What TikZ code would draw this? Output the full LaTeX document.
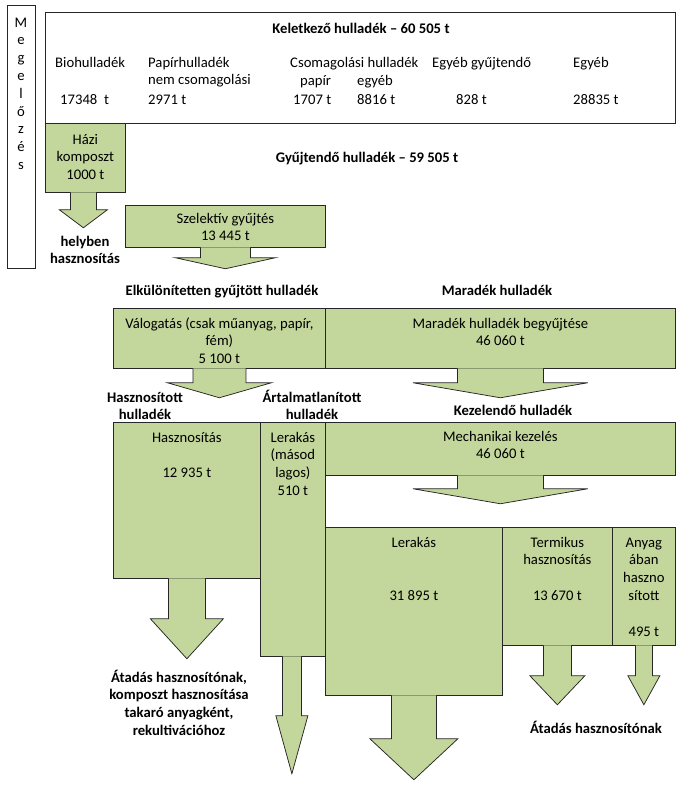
\documentclass[tikz,border=0pt]{standalone}
\usepackage{fontspec}
\setmainfont{Carlito}
\usepackage{tikz}
\usetikzlibrary{positioning}

\definecolor{boxgreen}{HTML}{C3D69B}
\definecolor{edgegray}{HTML}{262626}

\tikzset{
  box/.style={draw=edgegray, fill=boxgreen, line width=0.75pt, anchor=north west, inner sep=0pt},
  frame/.style={draw=edgegray, line width=0.75pt, anchor=north west, inner sep=0pt},
  txt/.style={inner sep=0pt, anchor=north, align=center},
  ltxt/.style={inner sep=0pt, anchor=north west, align=left},
  head/.style={txt, font=\bfseries},
  flow/.style={draw=edgegray, fill=boxgreen, line width=0.75pt, line join=miter}
}

% block arrow below a box: root, stem half width, stem length, head half width, head length
\newcommand{\blockarrow}[5]{%
  \filldraw[flow] (#1) ++(-#2,-0.5) -- ++(0,#3+0.5) -- ++(#2-#4,0) -- ++(#4,#5)
    -- ++(#4,-#5) -- ++(#2-#4,0) -- ++(0,-#3-0.5);
}

\begin{document}
\fontsize{14.67}{17.8}\selectfont
\begin{tikzpicture}[x=1pt, y=-1pt]
  \useasboundingbox (0,0) rectangle (695,792);

  % boxes
  \node[frame, minimum width=28pt, minimum height=263pt] (megelozes) at (7,5) {};
  \node[frame, minimum width=630pt, minimum height=111pt] (keletkezo) at (45,12) {};
  \node[box, minimum width=80pt, minimum height=69pt] (hazi) at (45,123) {};
  \node[box, minimum width=200pt, minimum height=42pt] (szelektiv) at (125,205) {};
  \node[box, minimum width=212pt, minimum height=60pt] (valogatas) at (113,308) {};
  \node[box, minimum width=350pt, minimum height=60pt] (maradek) at (325,308) {};
  \node[box, minimum width=147pt, minimum height=156pt] (hasznositas) at (113,422) {};
  \node[box, minimum width=65pt, minimum height=234pt] (lerakas2) at (260,422) {};
  \node[box, minimum width=350pt, minimum height=53pt] (mechanikai) at (325,422) {};
  \node[box, minimum width=177pt, minimum height=168pt] (lerakas) at (325,527) {};
  \node[box, minimum width=110pt, minimum height=118pt] (termikus) at (502,527) {};
  \node[box, minimum width=63pt, minimum height=118pt] (anyag) at (612,527) {};

  % arrows
  \blockarrow{[xshift=-2pt]hazi.south}{13}{17}{24}{18}
  \blockarrow{szelektiv.south}{25}{10}{50}{11}
  \blockarrow{valogatas.south}{26.5}{14}{52}{15}
  \blockarrow{maradek.south}{43}{14}{87.5}{15}
  \blockarrow{mechanikai.south}{43}{13}{87.5}{15}
  \blockarrow{hasznositas.south}{18.5}{40}{36.5}{40}
  \blockarrow{[xshift=-1pt]lerakas2.south}{9.5}{59}{16}{58}
  \blockarrow{lerakas.south}{22.5}{43}{44}{41}
  \blockarrow{termikus.south}{14}{30}{27.5}{29}
  \blockarrow{anyag.south}{8.5}{30}{16}{29}

  % top box
  \node[txt] (megelozestxt) at (21,14.5) {\strut M\\e\\g\\e\\l\\ő\\z\\é\\s};
  \node[head] (keletkezotxt) at (361,20.5) {\strut Keletkező hulladék – 60 505 t};
  \node[ltxt] (bio) at (55,54.5) {\strut Biohulladék};
  \node[ltxt] (papir) at (148,54.5) {\strut Papírhulladék\\nem csomagolási};
  \node[ltxt] (csomag) at (290,54.5) {\strut Csomagolási hulladék};
  \node[ltxt] (csomagpapir) at (300,72.5) {\strut papír};
  \node[ltxt] (csomagegyeb) at (357,72.5) {\strut egyéb};
  \node[ltxt] (egyebgyujt) at (432,54.5) {\strut Egyéb gyűjtendő};
  \node[ltxt] (egyeb) at (573,54.5) {\strut Egyéb};
  \node[ltxt] (biot) at (60,91.5) {\strut 17348\ \ t};
  \node[ltxt] (papirt) at (148,91.5) {\strut 2971 t};
  \node[ltxt] (csomagpapirt) at (293,91.5) {\strut 1707 t};
  \node[ltxt] (csomagegyebt) at (357,91.5) {\strut 8816 t};
  \node[ltxt] (egyebgyujtt) at (456,91.5) {\strut 828 t};
  \node[ltxt] (egyebt) at (573,91.5) {\strut 28835 t};

  % box texts
  \node[txt, below=8.5pt of hazi.north] (hazitxt) {\strut Házi\\komposzt\\1000 t};
  \node[txt, below=5.5pt of szelektiv.north] (szelektivtxt) {\strut Szelektív gyűjtés\\13 445 t};
  \node[txt, below=7.5pt of valogatas.north] (valogatastxt) {\strut Válogatás (csak műanyag, papír,\\fém)\\5 100 t};
  \node[txt, below=7.5pt of maradek.north] (maradektxt) {\strut Maradék hulladék begyűjtése\\46 060 t};
  \node[txt, below=7.5pt of hasznositas.north] (hasznositastxt) {\strut Hasznosítás\\[17.8pt]12 935 t};
  \node[txt, below=7.5pt of lerakas2.north] (lerakas2txt) {\strut Lerakás\\(másod\\lagos)\\510 t};
  \node[txt, below=6.5pt of mechanikai.north] (mechanikaitxt) {\strut Mechanikai kezelés\\46 060 t};
  \node[txt, below=7.5pt of lerakas.north] (lerakastxt) {\strut Lerakás\\[35.6pt]31 895 t};
  \node[txt, below=7.5pt of termikus.north] (termikustxt) {\strut Termikus\\hasznosítás\\[17.8pt]13 670 t};
  \node[txt, below=7.5pt of anyag.north] (anyagtxt) {\strut Anyag\\ában\\haszno\\sított\\[17.8pt]495 t};

  % headings
  \node[head] (gyujtendo) at (367,149.5) {\strut Gyűjtendő hulladék – 59 505 t};
  \node[head] (helyben) at (85,233.5) {\strut helyben\\hasznosítás};
  \node[head] (elkulonitett) at (222,282.5) {\strut Elkülönítetten gyűjtött hulladék};
  \node[head] (maradekcim) at (497,282.5) {\strut Maradék hulladék};
  \node[head] (hasznositott) at (145,389.5) {\strut Hasznosított\\hulladék};
  \node[head] (artalmatlanitott) at (312,389.5) {\strut Ártalmatlanított\\hulladék};
  \node[head] (kezelendo) at (513,402.5) {\strut Kezelendő hulladék};
  \node[head] (atadas) at (179,669.5) {\strut Átadás hasznosítónak,\\komposzt hasznosítása\\takaró anyagként,\\rekultivációhoz};
  \node[head] (atadas2) at (596,720.5) {\strut Átadás hasznosítónak};
\end{tikzpicture}
\end{document}
